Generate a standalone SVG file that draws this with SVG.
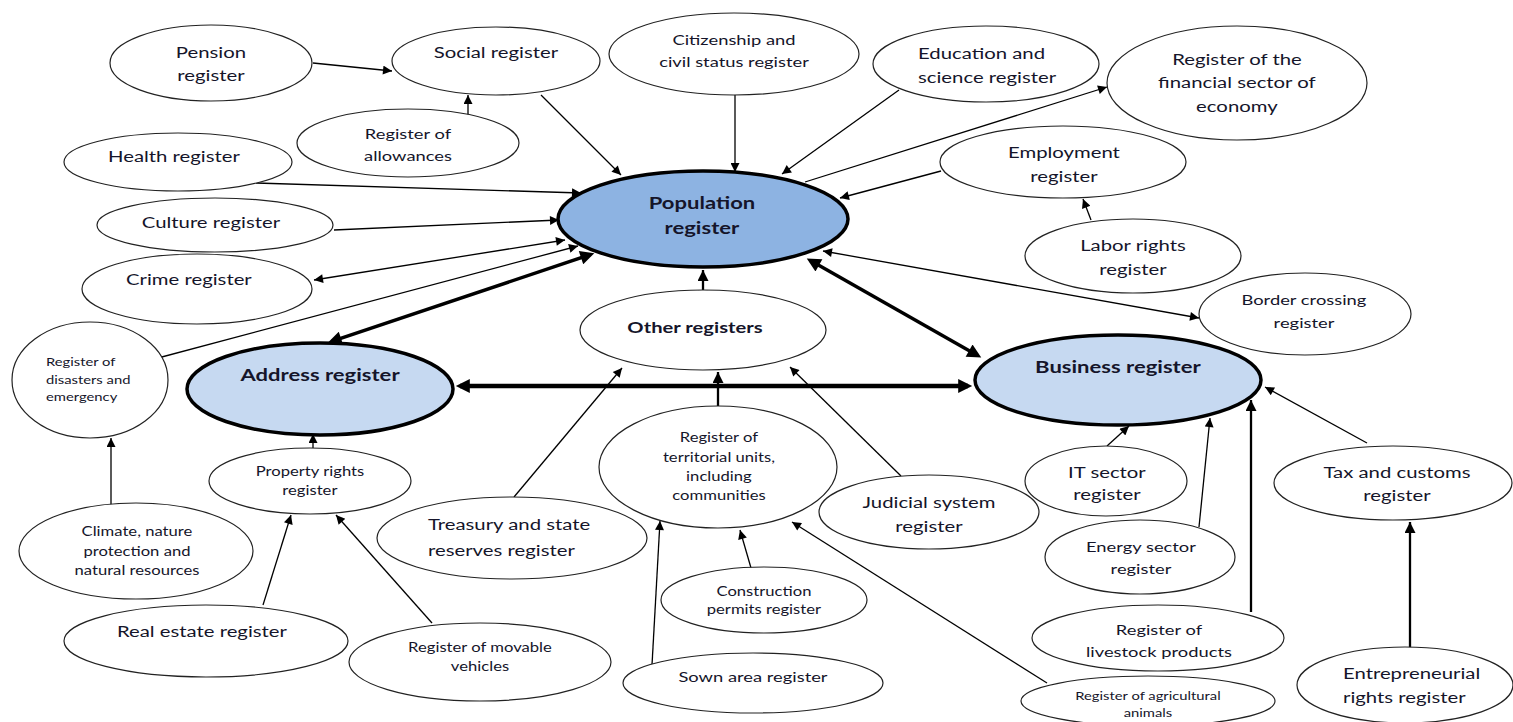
<svg xmlns="http://www.w3.org/2000/svg" width="1513" height="722" viewBox="0 0 1513 722">
<style>
.n ellipse{fill:#fff;stroke:#222;stroke-width:1.2}
.h ellipse{stroke:#000;stroke-width:3.5}
text{font-family:Lato,"Open Sans","Liberation Sans",sans-serif;fill:#15152a;text-anchor:middle;dominant-baseline:central;transform-box:fill-box;transform-origin:center;transform:scaleX(1.32)}
.L{font-size:15.4px}
.M{font-size:13.9px}
.S{font-size:12.6px}
.X{font-size:11.2px}
.B{font-weight:bold;font-size:16.7px}
.st{text-anchor:start;transform-origin:left center}
#conn line{stroke:#000;stroke-width:1.3;fill:none}
#conn .m{stroke-width:2.3}
#conn .t{stroke-width:3.5}
#conn .tt{stroke-width:4.5}
</style>
<defs>
<marker id="a" viewBox="0 0 10 10" refX="10" refY="5" markerWidth="11" markerHeight="9" markerUnits="userSpaceOnUse" orient="auto-start-reverse"><path d="M0,0L10,5L0,10z" fill="#000"/></marker>
<marker id="b" viewBox="0 0 10 10" refX="10" refY="5" markerWidth="13" markerHeight="11" markerUnits="userSpaceOnUse" orient="auto-start-reverse"><path d="M0,0L10,5L0,10z" fill="#000"/></marker>
<marker id="c" viewBox="0 0 10 10" refX="7" refY="5" markerWidth="17" markerHeight="14" markerUnits="userSpaceOnUse" orient="auto-start-reverse"><path d="M0,0L10,5L0,10z" fill="#000"/></marker>
</defs>

<g id="conn">
<line x1="313" y1="63" x2="392" y2="71" marker-end="url(#a)"/>
<line x1="468" y1="115" x2="468" y2="95" marker-end="url(#a)"/>
<line x1="541" y1="95" x2="621" y2="175" marker-end="url(#a)"/>
<line x1="735" y1="95" x2="735" y2="172" marker-end="url(#a)"/>
<line x1="899" y1="90" x2="782" y2="174" marker-end="url(#a)"/>
<line x1="805" y1="182" x2="1107" y2="87" marker-end="url(#a)"/>
<line x1="941" y1="171" x2="840" y2="198" marker-end="url(#a)"/>
<line x1="1091" y1="220" x2="1083" y2="199" marker-end="url(#a)"/>
<line x1="823" y1="251" x2="1199" y2="318" marker-start="url(#a)" marker-end="url(#a)"/>
<line x1="256" y1="183" x2="581" y2="193" marker-end="url(#a)"/>
<line x1="334" y1="230" x2="559" y2="220" marker-end="url(#a)"/>
<line x1="314" y1="280" x2="565" y2="240" marker-start="url(#a)" marker-end="url(#a)"/>
<line x1="158" y1="358" x2="578" y2="246" marker-end="url(#a)"/>
<line class="t" x1="590.3" y1="254.6" x2="331.7" y2="341.4" marker-start="url(#c)" marker-end="url(#c)"/>
<line class="m" x1="703" y1="270" x2="703" y2="301" marker-start="url(#b)" marker-end="url(#b)"/>
<line class="t" x1="810.4" y1="260.5" x2="977.6" y2="355.5" marker-start="url(#c)" marker-end="url(#c)"/>
<line class="tt" x1="460" y1="386" x2="968" y2="386" marker-start="url(#c)" marker-end="url(#c)"/>
<line x1="514" y1="497" x2="622" y2="368" marker-end="url(#a)"/>
<line class="m" x1="718" y1="407" x2="718" y2="372" marker-end="url(#b)"/>
<line x1="901" y1="476" x2="790" y2="367" marker-end="url(#a)"/>
<line x1="313" y1="448" x2="313" y2="434" marker-end="url(#a)"/>
<line x1="111" y1="505" x2="111" y2="438" marker-end="url(#a)"/>
<line x1="263" y1="605" x2="291" y2="515" marker-end="url(#a)"/>
<line x1="432" y1="623" x2="336" y2="515" marker-end="url(#a)"/>
<line x1="652" y1="665" x2="660" y2="521" marker-end="url(#a)"/>
<line x1="751" y1="568" x2="740" y2="530" marker-end="url(#a)"/>
<line x1="1047" y1="683" x2="792" y2="522" marker-end="url(#a)"/>
<line x1="1107" y1="446" x2="1129" y2="426" marker-end="url(#a)"/>
<line x1="1199" y1="527" x2="1210" y2="418" marker-end="url(#a)"/>
<line class="m" x1="1251" y1="612" x2="1251" y2="400" marker-end="url(#b)"/>
<line x1="1367" y1="443" x2="1265" y2="387" marker-end="url(#a)"/>
<line class="m" x1="1410" y1="648" x2="1410" y2="522" marker-end="url(#b)"/>
</g>

<g id="pension" class="n"><ellipse cx="211" cy="63" rx="101" ry="38"/><text class="L" x="211" y="52">Pension</text><text class="L" x="211" y="75">register</text></g>
<g id="social" class="n"><ellipse cx="496" cy="61" rx="104" ry="34"/><text class="L" x="496" y="52">Social register</text></g>
<g id="allowances" class="n"><ellipse cx="408" cy="143" rx="111" ry="34"/><text class="M" x="408" y="133">Register of</text><text class="M" x="408" y="155">allowances</text></g>
<g id="health" class="n"><ellipse cx="178" cy="162" rx="114" ry="29"/><text class="L" x="174" y="156">Health register</text></g>
<g id="culture" class="n"><ellipse cx="215" cy="225" rx="118" ry="27"/><text class="L" x="211" y="222">Culture register</text></g>
<g id="crime" class="n"><ellipse cx="197" cy="289" rx="115" ry="35"/><text class="L" x="189" y="279">Crime register</text></g>
<g id="disasters" class="n"><ellipse cx="90" cy="380" rx="78" ry="58"/><text class="X st" x="46" y="362">Register of</text><text class="X st" x="46" y="380">disasters and</text><text class="X st" x="46" y="397">emergency</text></g>
<g id="citizenship" class="n"><ellipse cx="734" cy="54" rx="125" ry="41"/><text class="M" x="734" y="39">Citizenship and</text><text class="M" x="734" y="61">civil status register</text></g>
<g id="education" class="n"><ellipse cx="986" cy="64" rx="113" ry="38"/><text class="L st" x="918" y="53">Education and</text><text class="L st" x="918" y="77">science register</text></g>
<g id="financial" class="n"><ellipse cx="1237" cy="83" rx="130" ry="57"/><text class="L" x="1237" y="59">Register of the</text><text class="L" x="1237" y="82">financial sector of</text><text class="L" x="1237" y="106">economy</text></g>
<g id="employment" class="n"><ellipse cx="1063" cy="162" rx="123" ry="36"/><text class="L" x="1064" y="152">Employment</text><text class="L" x="1064" y="176">register</text></g>
<g id="labor" class="n"><ellipse cx="1133" cy="256" rx="108" ry="37"/><text class="L" x="1133" y="245">Labor rights</text><text class="L" x="1133" y="269">register</text></g>
<g id="border" class="n"><ellipse cx="1305" cy="314" rx="106" ry="41"/><text class="M" x="1304" y="299">Border crossing</text><text class="M" x="1304" y="322">register</text></g>
<g id="population" class="h"><ellipse cx="703" cy="219" rx="145" ry="48" fill="#8DB3E2"/><text class="B" x="702" y="203">Population</text><text class="B" x="702" y="228">register</text></g>
<g id="other" class="n"><ellipse cx="703" cy="330" rx="123" ry="40"/><text class="B" x="695" y="327" style="font-size:15.3px">Other registers</text></g>
<g id="address" class="h"><ellipse cx="320" cy="389" rx="133" ry="46" fill="#C6D9F1"/><text class="B" x="320" y="375">Address register</text></g>
<g id="business" class="h"><ellipse cx="1118" cy="380" rx="143" ry="45" fill="#C6D9F1"/><text class="B" x="1118" y="367">Business register</text></g>
<g id="property" class="n"><ellipse cx="310" cy="481" rx="101" ry="33"/><text class="S" x="310" y="471">Property rights</text><text class="S" x="310" y="490">register</text></g>
<g id="climate" class="n"><ellipse cx="136" cy="551" rx="117" ry="48"/><text class="S" x="137" y="531">Climate, nature</text><text class="S" x="137" y="551">protection and</text><text class="S" x="137" y="570">natural resources</text></g>
<g id="realestate" class="n"><ellipse cx="206" cy="641" rx="142" ry="36"/><text class="L" x="202" y="631">Real estate register</text></g>
<g id="movable" class="n"><ellipse cx="480" cy="662" rx="131" ry="39"/><text class="S" x="480" y="647">Register of movable</text><text class="S" x="480" y="666">vehicles</text></g>
<g id="treasury" class="n"><ellipse cx="512" cy="538" rx="135" ry="41"/><text class="L st" x="428" y="524">Treasury and state</text><text class="L st" x="428" y="550">reserves register</text></g>
<g id="territorial" class="n"><ellipse cx="718" cy="467" rx="119" ry="61"/><text class="S" x="719" y="437">Register of</text><text class="S" x="719" y="457">territorial units,</text><text class="S" x="719" y="476">including</text><text class="S" x="719" y="495">communities</text></g>
<g id="judicial" class="n"><ellipse cx="929" cy="512" rx="110" ry="37"/><text class="L" x="929" y="502">Judicial system</text><text class="L" x="929" y="526">register</text></g>
<g id="construction" class="n"><ellipse cx="764" cy="600" rx="103" ry="33"/><text class="S" x="764" y="591">Construction</text><text class="S" x="764" y="609">permits register</text></g>
<g id="sown" class="n"><ellipse cx="753" cy="683" rx="130" ry="30"/><text class="M" x="753" y="676">Sown area register</text></g>
<g id="it" class="n"><ellipse cx="1106" cy="481" rx="81" ry="35"/><text class="L" x="1107" y="472">IT sector</text><text class="L" x="1107" y="494">register</text></g>
<g id="energy" class="n"><ellipse cx="1140" cy="557" rx="95" ry="37"/><text class="M" x="1141" y="546">Energy sector</text><text class="M" x="1141" y="568">register</text></g>
<g id="livestock" class="n"><ellipse cx="1158" cy="638" rx="126" ry="33"/><text class="M" x="1159" y="629">Register of</text><text class="M" x="1159" y="651">livestock products</text></g>
<g id="agricultural" class="n"><ellipse cx="1148" cy="701" rx="127" ry="25"/><text class="X" x="1148" y="696">Register of agricultural</text><text class="X" x="1148" y="713">animals</text></g>
<g id="tax" class="n"><ellipse cx="1393" cy="483" rx="119" ry="37"/><text class="L" x="1397" y="472">Tax and customs</text><text class="L" x="1397" y="495">register</text></g>
<g id="entrepreneurial" class="n"><ellipse cx="1405" cy="685" rx="108" ry="38"/><text class="L st" x="1343" y="673">Entrepreneurial</text><text class="L st" x="1343" y="697">rights register</text></g>
</svg>
